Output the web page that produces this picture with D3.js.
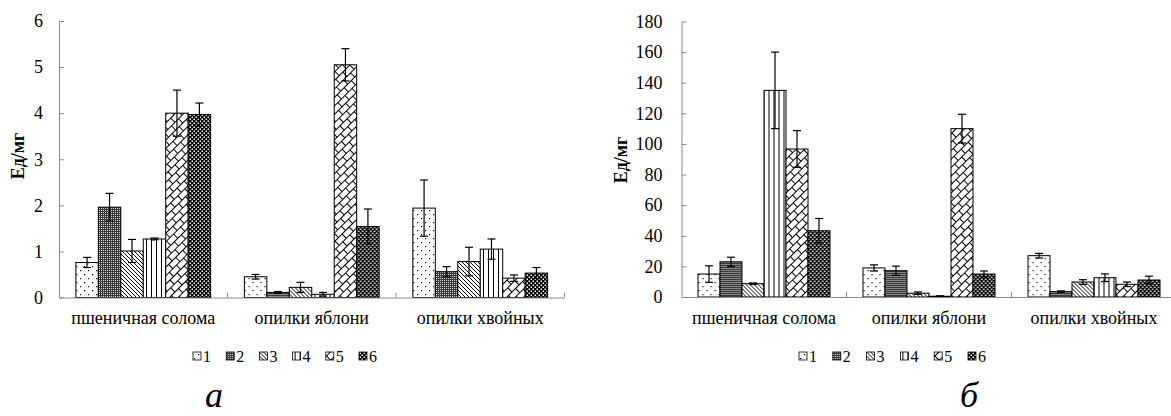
<!DOCTYPE html>
<html>
<head>
<meta charset="utf-8">
<script src="https://cdn.jsdelivr.net/npm/d3@7"></script>
<style>
  body { margin: 0; background: #fff; }
  svg { display: block; }
  svg text { font-family: 'Liberation Serif', 'Times New Roman', 'DejaVu Serif', serif; fill: #000; }
  .axis path, .axis line { stroke: #8c8c8c; }
</style>
</head>
<body>
<div id="chart"></div>
<script>
var categories = ['пшеничная солома', 'опилки яблони', 'опилки хвойных'];
var series = ['1', '2', '3', '4', '5', '6'];

// panel а
var ticksA = [0, 1, 2, 3, 4, 5, 6];
var valuesA = [
  [0.76, 1.96, 1.01, 1.27, 4.00, 3.97],
  [0.45, 0.11, 0.22, 0.07, 5.05, 1.54],
  [1.94, 0.56, 0.78, 1.05, 0.42, 0.53]
];
var errorsA = [
  [0.11, 0.30, 0.25, 0.02, 0.50, 0.25],
  [0.05, 0.02, 0.11, 0.04, 0.35, 0.38],
  [0.61, 0.11, 0.31, 0.22, 0.07, 0.12]
];

// panel б
var ticksB = [0, 20, 40, 60, 80, 100, 120, 140, 160, 180];
var valuesB = [
  [15, 23, 8.7, 135, 96.7, 43.3],
  [19, 17.2, 2.5, 0.5, 110, 15],
  [27, 3.5, 9.8, 12.6, 8.3, 11.1]
];
var errorsB = [
  [5.4, 3, 0.5, 25, 12, 8],
  [2, 3, 0.8, 0.3, 9.4, 2],
  [1.5, 0.5, 1.5, 2.5, 1.5, 2.5]
];

var W = 1171, H = 416;
var svg = d3.select('#chart').append('svg')
    .attr('width', W)
    .attr('height', H);

// hatch fills, one per series
var defs = svg.append('defs');
function pattern(id, w, h) {
  return defs.append('pattern')
      .attr('id', id)
      .attr('patternUnits', 'userSpaceOnUse')
      .attr('width', w)
      .attr('height', h || w);
}
var p;
p = pattern('pat1', 8);
p.append('rect').attr('width', 8).attr('height', 8).attr('fill', '#fff');
p.append('rect').attr('x', 1).attr('y', 2).attr('width', 1.2).attr('height', 1.2).attr('fill', '#000');
p.append('rect').attr('x', 5).attr('y', 6).attr('width', 1.2).attr('height', 1.2).attr('fill', '#000');

p = pattern('pat2', 2);
p.append('rect').attr('width', 2).attr('height', 2).attr('fill', '#3a3a3a');
p.append('rect').attr('width', 1).attr('height', 1).attr('fill', '#d0d0d0');

p = pattern('pat3', 4);
p.append('rect').attr('width', 4).attr('height', 4).attr('fill', '#fff');
p.append('path').attr('d', 'M-1,-1L5,5M-1,3L1,5M3,-1L5,1').attr('stroke', '#000').attr('stroke-width', 1);

p = pattern('pat4', 5);
p.append('rect').attr('width', 5).attr('height', 5).attr('fill', '#fff');
p.append('path').attr('d', 'M2.5,0V5').attr('stroke', '#000').attr('stroke-width', 1);

// diagonal brick: horizontal bricks turned by 45 degrees
p = pattern('pat5', 10, 12).attr('patternTransform', 'rotate(-45)');
p.append('rect').attr('width', 10).attr('height', 12).attr('fill', '#fff');
p.append('path').attr('d', 'M0,0.5H10M0,6.5H10M0.5,0.5V6.5M5.5,6.5V12')
    .attr('stroke', '#000').attr('stroke-width', 1);

p = pattern('pat6', 4);
p.append('rect').attr('width', 4).attr('height', 4).attr('fill', '#000');
p.append('rect').attr('x', 0.5).attr('y', 0.5).attr('width', 1.5).attr('height', 1.5).attr('fill', '#fff');
p.append('rect').attr('x', 2.5).attr('y', 2.5).attr('width', 1.5).attr('height', 1.5).attr('fill', '#fff');

var fills = series.map(function(s) { return 'url(#pat' + s + ')'; });

function drawPanel(cfg) {
  var g = svg.append('g');

  var x = d3.scaleBand()
    .domain(categories)
    .range(cfg.xRange)
    .padding(0);

  var step = x.step();
  var xInner = d3.scaleBand()
    .domain(series)
    .range([step * 0.1, step * 0.9])
    .padding(0);

  var y = d3.scaleLinear()
    .domain([0, d3.max(cfg.ticks)])
    .range(cfg.yRange);

  // y axis, ticks point inward
  var yAxis = d3.axisLeft(y)
    .tickValues(cfg.ticks)
    .tickFormat(d3.format('d'))
    .tickSize(-5)
    .tickSizeOuter(0)
    .tickPadding(cfg.tickPad);

  var yg = g.append('g')
      .attr('class', 'axis axis--y')
      .attr('transform', 'translate(' + cfg.xRange[0] + ',0)')
      .call(yAxis);
  yg.attr('font-family', null);
  yg.selectAll('text').attr('font-size', 18);

  // bars
  var groups = g.append('g')
    .selectAll('.group')
      .data(cfg.values)
    .enter().append('g')
      .attr('class', 'group')
      .attr('transform', function(d, i) { return 'translate(' + x(categories[i]) + ',0)'; });

  groups.selectAll('rect')
      .data(function(d) { return d; })
    .enter().append('rect')
      .attr('x', function(d, j) { return xInner(series[j]); })
      .attr('y', function(d) { return y(d); })
      .attr('width', xInner.bandwidth())
      .attr('height', function(d) { return y(0) - y(d); })
      .attr('fill', function(d, j) { return fills[j]; })
      .attr('stroke', '#000')
      .attr('stroke-width', 1);

  // error bars
  var errs = groups.selectAll('.err')
      .data(function(d, i) {
        return d.map(function(v, j) { return {v: v, e: cfg.errors[i][j], s: series[j]}; });
      })
    .enter().append('g')
      .attr('class', 'err')
      .attr('stroke', '#000')
      .attr('stroke-width', 1.2);

  var cx = function(d) { return xInner(d.s) + xInner.bandwidth() / 2; };
  errs.append('line')
      .attr('x1', cx).attr('x2', cx)
      .attr('y1', function(d) { return y(d.v + d.e); })
      .attr('y2', function(d) { return y(Math.max(0, d.v - d.e)); });
  errs.append('line')
      .attr('x1', function(d) { return cx(d) - 4; })
      .attr('x2', function(d) { return cx(d) + 4; })
      .attr('y1', function(d) { return y(d.v + d.e); })
      .attr('y2', function(d) { return y(d.v + d.e); });
  errs.append('line')
      .attr('x1', function(d) { return cx(d) - 4; })
      .attr('x2', function(d) { return cx(d) + 4; })
      .attr('y1', function(d) { return y(Math.max(0, d.v - d.e)); })
      .attr('y2', function(d) { return y(Math.max(0, d.v - d.e)); });

  // x axis: labels only, boundary ticks drawn separately
  var xAxis = d3.axisBottom(x).tickSize(0).tickPadding(14);
  var xg = g.append('g')
      .attr('class', 'axis axis--x')
      .attr('transform', 'translate(0,' + y(0) + ')')
      .call(xAxis);
  xg.attr('font-family', null);
  xg.selectAll('text').attr('font-size', 18);

  xg.selectAll('.bound')
      .data(categories.slice(1).concat(['end']))
    .enter().append('line')
      .attr('class', 'bound')
      .attr('x1', function(d, i) { return x.range()[0] + step * (i + 1); })
      .attr('x2', function(d, i) { return x.range()[0] + step * (i + 1); })
      .attr('y1', 0)
      .attr('y2', -5);

  // y title
  g.append('text')
      .attr('transform', 'translate(' + cfg.titleX + ',' + cfg.titleY + ') rotate(-90)')
      .attr('text-anchor', 'middle')
      .attr('font-weight', 'bold')
      .attr('font-size', 18)
      .text('Ед/мг');

  // legend
  var legend = g.append('g')
      .attr('transform', 'translate(' + cfg.legendX + ',356)')
      .attr('font-size', 16);

  var item = legend.selectAll('.item')
      .data(series)
    .enter().append('g')
      .attr('class', 'item')
      .attr('transform', function(d, i) { return 'translate(' + (i * cfg.legendStep) + ',0)'; });

  item.append('rect')
      .attr('x', 0).attr('y', -4)
      .attr('width', 8).attr('height', 8)
      .attr('fill', function(d, i) { return fills[i]; })
      .attr('stroke', '#000')
      .attr('stroke-width', 0.8);

  item.append('text')
      .attr('x', 10)
      .attr('dy', '0.35em')
      .text(function(d) { return d; });

  // panel letter
  g.append('text')
      .attr('x', cfg.letterX)
      .attr('y', 407)
      .attr('text-anchor', 'middle')
      .attr('font-style', 'italic')
      .attr('font-size', 36)
      .text(cfg.letter);
}

drawPanel({
  values: valuesA, errors: errorsA, ticks: ticksA,
  xRange: [59, 564.5], yRange: [297.5, 21],
  tickPad: 16, titleX: 24, titleY: 156,
  legendX: 193, legendStep: 33.2,
  letterX: 214, letter: 'а'
});

drawPanel({
  values: valuesB, errors: errorsB, ticks: ticksB,
  xRange: [681.5, 1176.5], yRange: [297, 21.5],
  tickPad: 19, titleX: 627, titleY: 160,
  legendX: 799, legendStep: 33.8,
  letterX: 969, letter: 'б'
});
</script>
</body>
</html>
